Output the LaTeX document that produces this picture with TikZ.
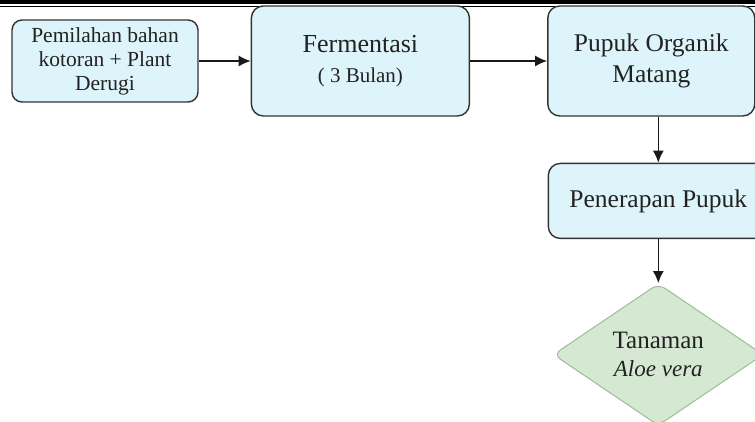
\documentclass[tikz,border=0pt]{standalone}
\usepackage{fontspec}
\setmainfont{Liberation Serif}
\usetikzlibrary{arrows.meta,positioning,shapes.geometric}
\definecolor{boxfill}{RGB}{222,244,251}
\definecolor{boxline}{RGB}{51,51,51}
\definecolor{leaffill}{RGB}{213,232,210}
\definecolor{leafline}{RGB}{160,186,156}
\definecolor{ink}{RGB}{34,34,34}

\begin{document}
\begin{tikzpicture}[x=1pt,y=1pt,>={Latex[length=12pt,width=11pt]},
  box/.style={draw=boxline,fill=boxfill,line width=1.4pt,rounded corners=12pt,align=center,text=ink,inner sep=2pt},
  leaf/.style={diamond,draw=leafline,fill=leaffill,line width=1pt,rounded corners=8pt,align=center,text=ink,inner sep=0pt,aspect=1.5,minimum width=210pt,minimum height=142pt},
  flow/.style={->,line width=1.5pt,black!90}]
\useasboundingbox (0,0) rectangle (755,-421);
\fill[black] (0,0) rectangle (755,-4.2);
\draw[line width=1.2pt] (0,-6.2) -- (755,-6.2);
\node[box,minimum width=186pt,minimum height=82pt,rounded corners=10pt,font=\fontsize{21.5}{24}\selectfont] (pilah) at (105,-61) {Pemilahan bahan\\kotoran + Plant\\Derugi};
\node[box,right=52pt of pilah,minimum width=218pt,minimum height=110pt,font=\fontsize{26}{30}\selectfont] (fermen) {Fermentasi\\{\fontsize{21}{30}\selectfont ( 3 Bulan)}};
\node[box,right=77pt of fermen,minimum width=207pt,minimum height=110pt,font=\fontsize{25.5}{31}\selectfont] (matang) {Pupuk Organik\\Matang};
\node[box,below=46pt of matang,xshift=7pt,minimum width=220pt,minimum height=75pt,font=\fontsize{25.5}{31}\selectfont] (terap) {Penerapan Pupuk};
\node[leaf,below=44pt of terap,font=\fontsize{25}{28}\selectfont] (aloe) {Tanaman\\{\fontsize{23}{28}\selectfont\itshape Aloe vera}};
\draw[flow] (pilah) -- (fermen);
\draw[flow] (fermen) -- (matang);
\draw[flow] (terap.north |- matang.south) -- (terap.north);
\draw[flow] (terap) -- (aloe);
\end{tikzpicture}
\end{document}
